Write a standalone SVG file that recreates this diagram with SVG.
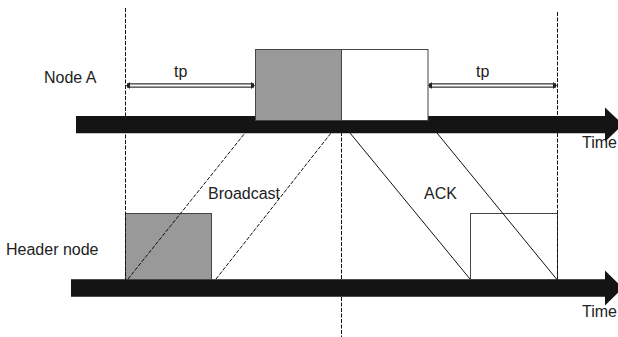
<svg xmlns="http://www.w3.org/2000/svg" width="618" height="337" viewBox="0 0 618 337">
<style>
text{font-family:"Liberation Sans",Arial,sans-serif;font-size:16px;fill:#222}
.dash{stroke:#111;stroke-width:1;stroke-dasharray:4,1.5;fill:none}
.diag{stroke:#111;stroke-width:1;stroke-dasharray:4,1.5;fill:none}
.solid{stroke:#111;stroke-width:1;fill:none}
.bar{fill:#141414}
.gray{fill:#999;stroke:#444;stroke-width:1}
.white{fill:#fff;stroke:#444;stroke-width:1}
.tpo{stroke:#333;stroke-width:4.5}
.tpi{stroke:#fff;stroke-width:2}
</style>
<g id="timeline-a">
<polygon class="bar" points="76,116 605,116 605,107.5 623,124.6 605,141.7 605,133.3 76,133.3"/>
<text x="582" y="148">Time</text>
</g>
<g id="timeline-h">
<polygon class="bar" points="71,279.3 605,279.3 605,270.5 623,288 605,305.5 605,296.7 71,296.7"/>
<text x="582" y="317">Time</text>
</g>
<g id="node-a-label"><text x="44" y="83">Node A</text></g>
<g id="header-label"><text x="6" y="255">Header node</text></g>
<g id="broadcast-box"><rect class="gray" x="255.5" y="49.5" width="86" height="71"/></g>
<g id="ack-box"><rect class="white" x="341.5" y="49.5" width="86.5" height="71"/></g>
<g id="header-gray"><rect class="gray" x="125.5" y="213.5" width="86" height="66"/></g>
<g id="header-white"><rect class="white" x="470.5" y="213.5" width="87" height="66"/></g>
<g id="tp-left">
<line class="tpo" x1="127" y1="85.5" x2="254" y2="85.5"/>
<line class="tpi" x1="129" y1="85.5" x2="252" y2="85.5"/>
<polygon points="126,85.5 130,82 130,89" fill="#222"/>
<polygon points="255,85.5 251,82 251,89" fill="#222"/>
<text x="174" y="77">tp</text>
</g>
<g id="tp-right">
<line class="tpo" x1="429" y1="85.5" x2="556" y2="85.5"/>
<line class="tpi" x1="431" y1="85.5" x2="554" y2="85.5"/>
<polygon points="428,85.5 432,82 432,89" fill="#222"/>
<polygon points="557,85.5 553,82 553,89" fill="#222"/>
<text x="476" y="77">tp</text>
</g>
<g id="broadcast-label"><text x="208" y="199">Broadcast</text></g>
<g id="ack-label"><text x="424" y="199">ACK</text></g>
<g id="connectors">
<line class="dash" x1="125.5" y1="8" x2="125.5" y2="280"/>
<line class="dash" x1="557.5" y1="12" x2="557.5" y2="280"/>
<line class="dash" x1="341.5" y1="121" x2="341.5" y2="337"/>
<line class="diag" x1="128" y1="279" x2="245" y2="133"/>
<line class="diag" x1="216" y1="279" x2="331" y2="133"/>
<line class="solid" x1="350" y1="133" x2="470" y2="279"/>
<line class="solid" x1="437" y1="133" x2="556.5" y2="279"/>
</g>
</svg>
